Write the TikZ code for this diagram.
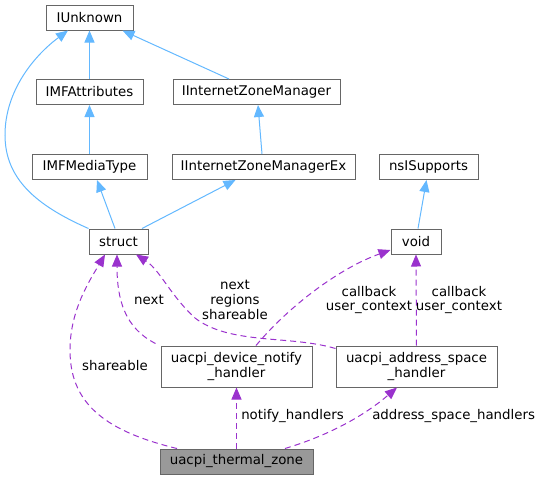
\documentclass[tikz,border=0pt]{standalone}
\usepackage{fontspec}
\setmainfont{DejaVu Sans}
\usetikzlibrary{arrows.meta,calc}
\definecolor{inhcol}{HTML}{63B8FF}
\definecolor{usecol}{HTML}{9A32CD}
\definecolor{bordcol}{HTML}{666666}
\definecolor{curcol}{HTML}{999999}
\begin{document}
\begin{tikzpicture}[x=0.75pt,y=-0.75pt,
  font=\fontsize{10}{11}\selectfont,
  box/.style={draw=bordcol, line width=0.75pt, fill=white, inner sep=0pt,
    minimum height=25*0.75pt, align=center},
  bw/.style={minimum width=#1*0.75pt},
  tall/.style={minimum height=41*0.75pt},
  inh/.style={draw=inhcol, line width=0.75pt, -{Triangle[length=9pt,width=7.5pt]}},
  use/.style={draw=usecol, line width=0.75pt, dash pattern=on 4.5pt off 3pt,
    -{Triangle[length=9pt,width=7.5pt]}},
  lbl/.style={inner sep=0pt, align=center}]
\useasboundingbox (0,0) rectangle (537,480);

% nodes
\node[box,bw=87] (iunk) at (89.5,17.5) {IUnknown};
\node[box,bw=107] (imfa) at (89.5,92) {IMFAttributes};
\node[box,bw=167] (iizm) at (256.5,92) {IInternetZoneManager};
\node[box,bw=115] (imfm) at (89.5,167) {IMFMediaType};
\node[box,bw=183] (iizmex) at (263.5,167) {IInternetZoneManagerEx};
\node[box,bw=99] (nsis) at (428.5,167) {nsISupports};
\node[box,bw=59] (struct) at (118.5,241.5) {struct};
\node[box,bw=50] (void) at (416,241.5) {void};
\node[box,bw=151,tall] (dev) at (236.5,366.5) {uacpi\_device\_notify\\\_handler};
\node[box,bw=161,tall] (asp) at (416.5,366.5) {uacpi\_address\_space\\\_handler};
\node[box,bw=153,fill=curcol] (thermal) at (236.5,461.5) {uacpi\_thermal\_zone};

% inheritance edges
\draw[inh] (imfa.north) -- (iunk.south);
\draw[inh] (imfm.north) -- (imfa.south);
\draw[inh] ($(iizm.north)+(-27.5,0)$) -- ($(iunk.south)+(33,0)$);
\draw[inh] ($(iizmex.north)+(-1.5,0)$) -- ($(iizm.south)+(1.5,0)$);
\draw[inh] ($(void.north)+(2,0)$) -- ($(nsis.south)+(-2,0)$);
\draw[inh] ($(struct.north)+(-3.5,0)$) -- ($(imfm.south)+(7.5,0)$);
\draw[inh] ($(struct.north)+(23.5,0)$) -- ($(iizmex.south)+(-28,0)$);
\draw[inh] (struct.north west) .. controls (35,205) and (5,178) .. (5,135)
  .. controls (5,90) and (35,55) .. ($(iunk.south)+(-21.5,0)$);

% usage edges
\draw[use] ($(thermal.north)+(-59.5,0)$) .. controls (100,430) and (70,400) .. (70,350)
  .. controls (70,310) and (90,280) .. ($(struct.south)+(-13.5,0)$);
\draw[use] ($(dev.north west)+(-5,-2)$) .. controls (125,328) and (117,300) .. ($(struct.south)+(-1.5,0)$);
\draw[use] ($(asp.north west)+(0,3)$) .. controls (290,335) and (230,345) .. (195,318)
  .. controls (170,295) and (160,270) .. ($(struct.south)+(17.5,0)$);
\draw[use] ($(dev.north)+(19.5,0)$) .. controls (290,305) and (340,268) .. ($(void.west)+(0,8.5)$);
\draw[use] (asp.north) -- (void.south);
\draw[use] (thermal.north) -- (dev.south);
\draw[use] ($(thermal.north)+(48.5,0)$) .. controls (330,435) and (365,415) .. ($(asp.south)+(-19.5,0)$);

% labels
\node[lbl] (l1) at (115,366) {shareable};
\node[lbl] (l2) at (149,300) {next};
\node[lbl] (l3) at (235,300) {next\\regions\\shareable};
\node[lbl] (l4) at (369,300) {callback\\user\_context};
\node[lbl] (l5) at (459,300) {callback\\user\_context};
\node[lbl,anchor=west] (l6) at (241,416) {notify\_handlers};
\node[lbl,anchor=west] (l7) at (372,416) {address\_space\_handlers};
\end{tikzpicture}
\end{document}
